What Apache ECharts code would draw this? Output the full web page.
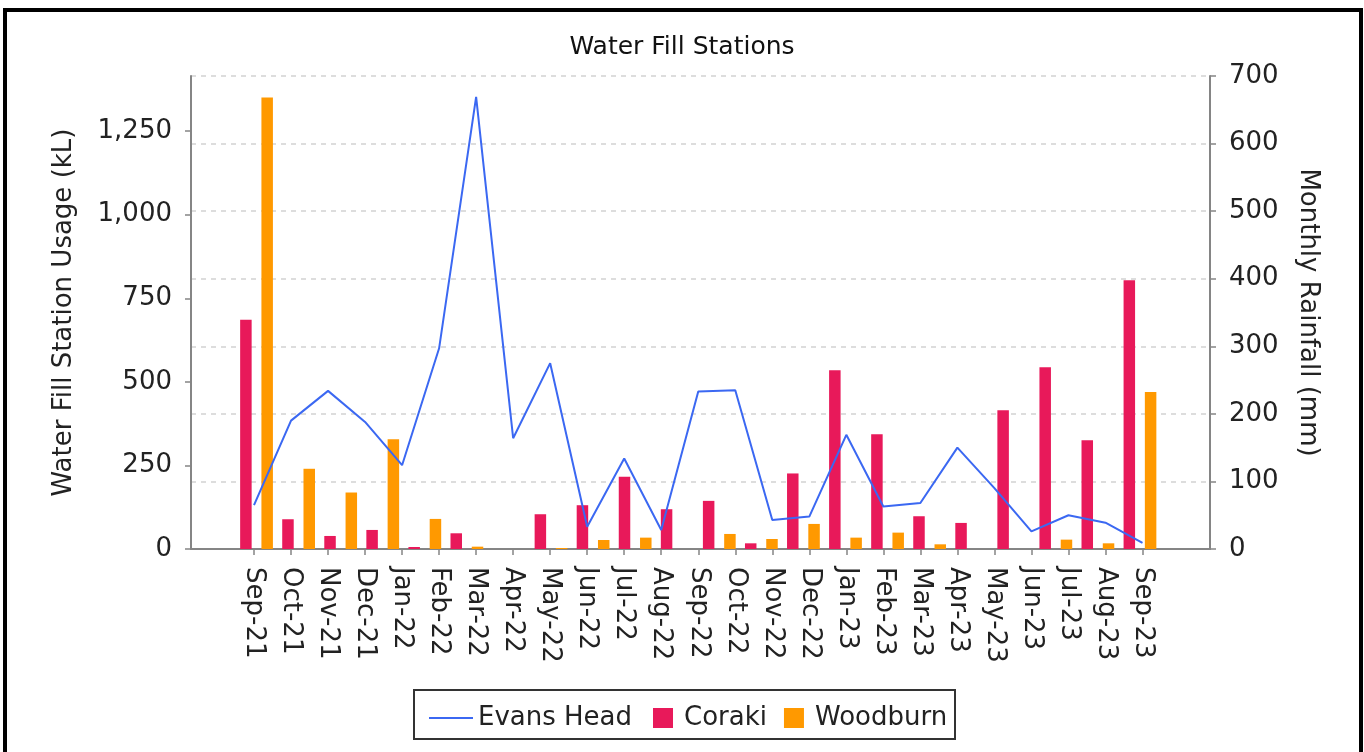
<!DOCTYPE html>
<html>
<head>
<meta charset="utf-8">
<title>Water Fill Stations</title>
<script src="https://cdn.jsdelivr.net/npm/echarts@6/dist/echarts.min.js"></script>
<style>
  html, body { margin: 0; padding: 0; background: #fff; }
  #chart { width: 1364px; height: 752px; }
</style>
</head>
<body>
<div id="chart"></div>
<script>
// month labels on the axis (line dataset)
var months = ['Sep-21', 'Oct-21', 'Nov-21', 'Dec-21', 'Jan-22', 'Feb-22', 'Mar-22', 'Apr-22',
    'May-22', 'Jun-22', 'Jul-22', 'Aug-22', 'Sep-22', 'Oct-22', 'Nov-22', 'Dec-22', 'Jan-23',
    'Feb-23', 'Mar-23', 'Apr-23', 'May-23', 'Jun-23', 'Jul-23', 'Aug-23', 'Sep-23'];
// monthly rainfall (mm), right axis
var evansHead = [65, 190, 234, 188, 124, 297, 669, 164, 275, 33, 134, 28, 233, 235,
    43, 48, 169, 63, 68, 150, 90, 26, 50, 39, 9];

// the bar dataset only has 22 columns, so the bars spread over the axis on their own slots
var barCats = ['Dec-21', 'Jan-22', 'Feb-22', 'Mar-22', 'Apr-22', 'May-22', 'Jun-22', 'Jul-22',
    'Aug-22', 'Sep-22', 'Oct-22', 'Nov-22', 'Dec-22', 'Jan-23', 'Feb-23', 'Mar-23', 'Apr-23',
    'May-23', 'Jun-23', 'Jul-23', 'Aug-23', 'Sep-23'];
// usage (kL), left axis
var coraki = [686, 89, 39, 57, 6, 47, 0, 104, 131, 216, 119, 144, 17, 226, 535, 343, 98, 78, 415, 544, 325, 804];
var woodburn = [1351, 240, 169, 328, 90, 7, 0, 3, 27, 34, 0, 45, 30, 75, 34, 49, 14, 0, 0, 28, 17, 470];

var usageTicks = [0, 250, 500, 750, 1000, 1250];
var usageMax = 1415;
var rainMax = 700;

var FONT = "'DejaVu Sans', sans-serif";
var axisGrey = '#858585';

var chart = echarts.init(document.getElementById('chart'));

var option = {
    animation: false,
    backgroundColor: '#fff',
    title: {
        text: 'Water Fill Stations',
        left: 'center',
        top: 30,
        textStyle: { fontFamily: FONT, fontSize: 25, fontWeight: 'normal', color: '#111' }
    },
    legend: [
        {
            data: [{ name: 'Evans Head', icon: 'rect' }],
            left: 424, top: 700,
            itemWidth: 44, itemHeight: 2,
            textStyle: { fontFamily: FONT, fontSize: 26, color: '#222' }
        },
        {
            data: ['Coraki', 'Woodburn'],
            left: 648, top: 700,
            itemWidth: 20, itemHeight: 20, itemGap: 17,
            icon: 'rect',
            textStyle: { fontFamily: FONT, fontSize: 26, color: '#222', padding: [0, 0, 0, 6] }
        }
    ],
    graphic: [
        // outer frame (no bottom edge in the original crop)
        { type: 'rect', shape: { x: 5, y: 10, width: 1356, height: 800 },
          style: { fill: 'none', stroke: '#000', lineWidth: 4 }, silent: true },
        // legend box
        { type: 'rect', shape: { x: 414, y: 690, width: 541, height: 49 },
          style: { fill: 'none', stroke: '#333', lineWidth: 2 }, silent: true }
    ],
    grid: [
        // frame grid: axes + gridlines across the full plot width
        { left: 191, right: 154, top: 76, bottom: 203, outerBoundsMode: 'none' },
        // data grid: categories with margins like the original
        { left: 235.5, right: 203, top: 76, bottom: 203, outerBoundsMode: 'none' }
    ],
    xAxis: [
        {
            gridIndex: 0, type: 'value', min: 0, max: 1,
            axisLine: { show: true, lineStyle: { color: axisGrey, width: 2 } },
            axisTick: { show: false }, axisLabel: { show: false }, splitLine: { show: false }
        },
        {
            gridIndex: 1, type: 'category', data: months,
            axisLine: { show: false },
            axisTick: { show: true, alignWithLabel: true, length: 6, lineStyle: { color: axisGrey, width: 1.5 } },
            axisLabel: { interval: 0, rotate: -90, margin: 18, fontFamily: FONT, fontSize: 26, color: '#222' },
            splitLine: { show: false }
        },
        {
            gridIndex: 1, type: 'category', data: barCats, show: false
        }
    ],
    yAxis: [
        {
            gridIndex: 0, type: 'value', position: 'left', min: 0, max: usageMax, interval: 250,
            name: 'Water Fill Station Usage (kL)', nameLocation: 'middle', nameGap: 114,
            nameTextStyle: { fontFamily: FONT, fontSize: 26, color: '#222' },
            axisLine: { show: true, lineStyle: { color: axisGrey, width: 2 } },
            axisTick: { show: true, length: 6, customValues: usageTicks, lineStyle: { color: axisGrey, width: 1.5 } },
            axisLabel: { margin: 19, customValues: usageTicks,
                fontFamily: FONT, fontSize: 26, color: '#222' },
            splitLine: { show: false }
        },
        {
            gridIndex: 0, type: 'value', position: 'right', min: 0, max: rainMax, interval: 100,
            name: 'Monthly Rainfall (mm)', nameLocation: 'middle', nameGap: 85, nameRotate: -90,
            nameTextStyle: { fontFamily: FONT, fontSize: 26, color: '#222' },
            axisLine: { show: true, lineStyle: { color: axisGrey, width: 2 } },
            axisTick: { show: true, length: 6, lineStyle: { color: axisGrey, width: 1.5 } },
            axisLabel: { margin: 19, fontFamily: FONT, fontSize: 26, color: '#222' },
            splitLine: { show: true, lineStyle: { color: '#d2d2d2', width: 1.5, type: [5, 5] } }
        },
        { gridIndex: 1, type: 'value', min: 0, max: usageMax, show: false, splitLine: { show: false } },
        { gridIndex: 1, type: 'value', min: 0, max: rainMax, show: false, splitLine: { show: false } }
    ],
    series: [
        {
            name: 'Evans Head', type: 'line', data: evansHead,
            xAxisIndex: 1, yAxisIndex: 3,
            symbol: 'none', z: 3,
            lineStyle: { color: '#3b68f2', width: 2 },
            itemStyle: { color: '#3b68f2' }
        },
        {
            name: 'Coraki', type: 'bar', data: coraki,
            xAxisIndex: 2, yAxisIndex: 2,
            barWidth: 11.5, barGap: '85%',
            itemStyle: { color: '#e8195a' }
        },
        {
            name: 'Woodburn', type: 'bar', data: woodburn,
            xAxisIndex: 2, yAxisIndex: 2,
            barWidth: 11.5, barGap: '85%',
            itemStyle: { color: '#ff9900' }
        }
    ]
};
chart.setOption(option);
</script>
</body>
</html>
